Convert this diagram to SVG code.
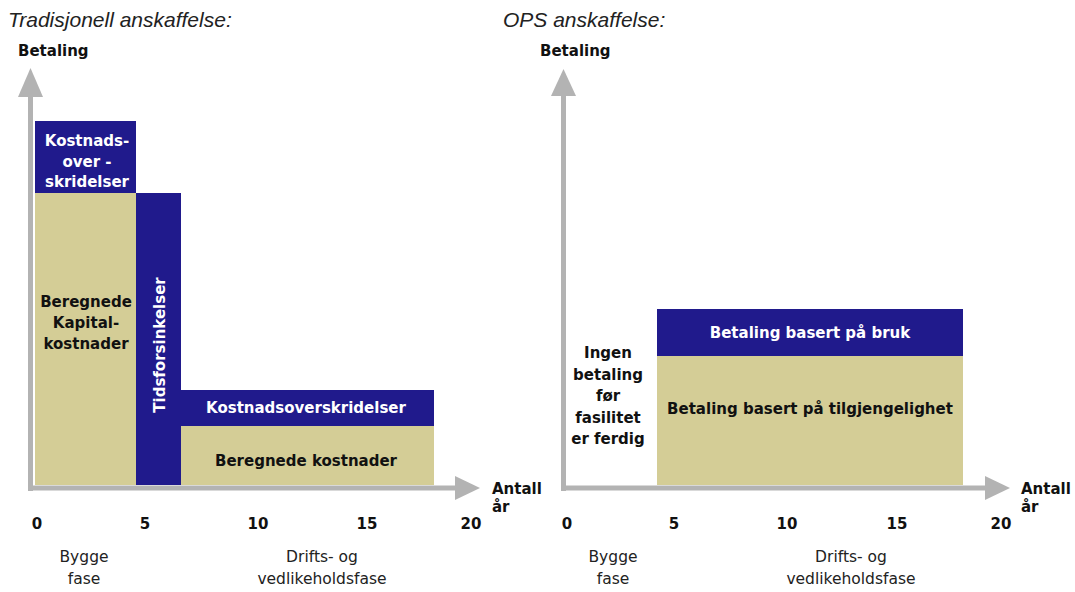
<svg xmlns="http://www.w3.org/2000/svg" width="1075" height="592" viewBox="0 0 1075 592">
  <style>
    .title { font-family: "Liberation Sans", Arial, sans-serif; font-style: italic; font-size: 21px; fill: #222; }
    .lbl { font-family: "DejaVu Sans", Verdana, sans-serif; font-weight: bold; font-size: 15px; fill: #111; }
    .wlbl { font-family: "DejaVu Sans", Verdana, sans-serif; font-weight: bold; font-size: 15px; fill: #ffffff; }
    .reg { font-family: "DejaVu Sans", Verdana, sans-serif; font-size: 15.5px; fill: #222; }
    .mid { text-anchor: middle; }
    .navy { fill: #201a8c; }
    .tan { fill: #d4cd96; }
    .axis { fill: #b3b3b3; }
  </style>

  <!-- Panel titles -->
  <text class="title" x="8" y="27">Tradisjonell anskaffelse:</text>
  <text class="title" x="503" y="27">OPS anskaffelse:</text>

  <!-- Traditional procurement: cost blocks -->
  <g id="kapital">
    <rect class="tan" x="35" y="193" width="101" height="292"/>
    <text class="lbl mid" x="86" y="307">Beregnede</text>
    <text class="lbl mid" x="86" y="328">Kapital-</text>
    <text class="lbl mid" x="86" y="349">kostnader</text>
  </g>
  <g id="kostnadsover-bygg">
    <rect class="navy" x="35" y="121" width="101" height="72"/>
    <text class="wlbl mid" x="87" y="146">Kostnads-</text>
    <text class="wlbl mid" x="87" y="167">over -</text>
    <text class="wlbl mid" x="87" y="187">skridelser</text>
  </g>
  <g id="tidsforsinkelser">
    <rect class="navy" x="136" y="193" width="45" height="292"/>
    <text class="wlbl mid" transform="translate(165 345) rotate(-90)">Tidsforsinkelser</text>
  </g>
  <g id="kostnadsover-drift">
    <rect class="navy" x="181" y="390" width="253" height="36"/>
    <text class="wlbl mid" x="306" y="413">Kostnadsoverskridelser</text>
  </g>
  <g id="beregnede-kostnader">
    <rect class="tan" x="181" y="426" width="253" height="59"/>
    <text class="lbl mid" x="306" y="466">Beregnede kostnader</text>
  </g>

  <!-- PPP procurement: payment blocks -->
  <g id="ingen-betaling">
    <text class="lbl mid" x="608" y="358">Ingen</text>
    <text class="lbl mid" x="608" y="380">betaling</text>
    <text class="lbl mid" x="608" y="401">før</text>
    <text class="lbl mid" x="608" y="423">fasilitet</text>
    <text class="lbl mid" x="608" y="444">er ferdig</text>
  </g>
  <g id="betaling-bruk">
    <rect class="navy" x="657" y="309" width="306" height="47"/>
    <text class="wlbl mid" x="810" y="338">Betaling basert på bruk</text>
  </g>
  <g id="betaling-tilgjengelighet">
    <rect class="tan" x="657" y="356" width="306" height="129"/>
    <text class="lbl mid" x="810" y="414">Betaling basert på tilgjengelighet</text>
  </g>

  <!-- Axes -->
  <g id="axes">
    <rect class="axis" x="28" y="95" width="5" height="396"/>
    <polygon class="axis" points="18,97 30.5,68 43,97"/>
    <rect class="axis" x="28" y="485.5" width="429" height="5"/>
    <polygon class="axis" points="455,476 480,488 455,500"/>

    <rect class="axis" x="561" y="95" width="5" height="396"/>
    <polygon class="axis" points="551,96 563.5,69 576,96"/>
    <rect class="axis" x="561" y="485.5" width="426" height="5"/>
    <polygon class="axis" points="985,476 1010,488 985,500"/>
  </g>

  <!-- Axis labels, left panel -->
  <g id="labels-left">
    <text class="lbl" x="18" y="56">Betaling</text>
    <text class="lbl" x="492" y="494">Antall</text>
    <text class="lbl" x="492" y="512">år</text>
    <text class="lbl mid" x="37" y="529">0</text>
    <text class="lbl mid" x="145" y="529">5</text>
    <text class="lbl mid" x="258" y="529">10</text>
    <text class="lbl mid" x="367" y="529">15</text>
    <text class="lbl mid" x="471" y="529">20</text>
    <text class="reg mid" x="84" y="562">Bygge</text>
    <text class="reg mid" x="84" y="584">fase</text>
    <text class="reg mid" x="322" y="562">Drifts- og</text>
    <text class="reg mid" x="322" y="584">vedlikeholdsfase</text>
  </g>

  <!-- Axis labels, right panel -->
  <g id="labels-right">
    <text class="lbl" x="540" y="56">Betaling</text>
    <text class="lbl" x="1021" y="494">Antall</text>
    <text class="lbl" x="1021" y="512">år</text>
    <text class="lbl mid" x="567" y="529">0</text>
    <text class="lbl mid" x="674" y="529">5</text>
    <text class="lbl mid" x="787" y="529">10</text>
    <text class="lbl mid" x="897" y="529">15</text>
    <text class="lbl mid" x="1001" y="529">20</text>
    <text class="reg mid" x="613" y="562">Bygge</text>
    <text class="reg mid" x="613" y="584">fase</text>
    <text class="reg mid" x="851" y="562">Drifts- og</text>
    <text class="reg mid" x="851" y="584">vedlikeholdsfase</text>
  </g>
</svg>
